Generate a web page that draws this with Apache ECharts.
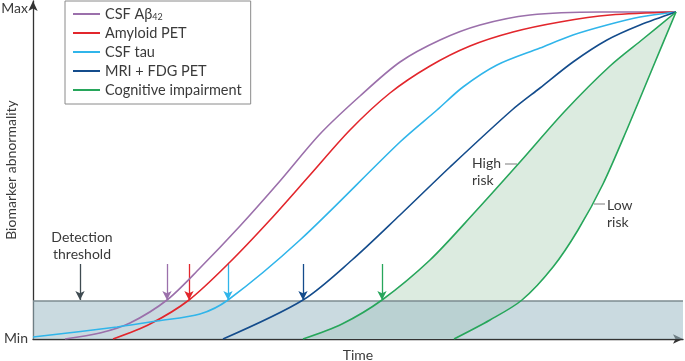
<!DOCTYPE html>
<html>
<head>
<meta charset="utf-8">
<script src="https://cdn.jsdelivr.net/npm/echarts@6/dist/echarts.min.js"></script>
<style>
  html, body { margin: 0; padding: 0; background: #fff; }
  #chart { width: 685px; height: 361px; }
</style>
</head>
<body>
<div id="chart"></div>
<script>
// time runs 0..650, abnormality 0 (min) .. 338, curves meet near 327
const threshold = 38;
const onsetTop = 75;

const abetaX = [32, 67, 97, 134, 167, 207, 247, 287, 327, 367, 407, 447, 497, 567, 643];
const abetaY = [0, 6, 16, 39, 71, 113, 158, 205, 243, 277, 299, 314, 324, 327, 327];

const amyloidX = [80, 117, 156, 197, 237, 277, 317, 357, 397, 437, 480, 527, 577, 643];
const amyloidY = [0, 15, 39, 77, 119, 164, 209, 246, 273, 293, 307, 317, 324, 327];

const tauX = [0, 84, 124, 167, 195, 267, 367, 404, 430, 464, 507, 540, 574, 607, 643];
const tauY = [2, 12, 18, 25, 39, 99, 197, 229, 252, 274, 291, 304, 314, 322, 327];

const mriX = [190, 270, 319, 367, 417, 479, 507, 540, 574, 607, 643];
const mriY = [0, 39, 79, 124, 172, 229, 251, 277, 299, 314, 327];

const highRiskX = [270, 309, 349, 397, 442, 487, 532, 577, 610, 643];
const highRiskY = [0, 15, 39, 79, 127, 177, 228, 273, 300, 327];

const lowRiskX = [421, 457, 489, 520, 545, 570, 595, 620, 643];
const lowRiskY = [0, 19, 39, 72, 109, 155, 212, 272, 327];

// where each biomarker crosses the detection threshold
const detectionX = 47;
const onsets = [134, 156, 195, 270, 349];

const names = ['CSF Aβ42', 'Amyloid PET', 'CSF tau', 'MRI + FDG PET', 'Cognitive impairment'];
const colors = ['#9b70ab', '#e2262c', '#30b5ea', '#144c8c', '#27a65b'];

const font = 'Lato, "Noto Sans", sans-serif';
const textColor = '#3a3a3a';

function pairs(xs, ys) {
  return xs.map((x, i) => [x, ys[i]]);
}

function onsetArrow(x, color) {
  return {
    silent: true,
    symbol: ['none', 'arrow'],
    symbolSize: [7, 9],
    label: { show: false },
    lineStyle: { color: color, width: 1.3, type: 'solid' },
    data: [[{ coord: [x, onsetTop] }, { coord: [x, threshold + 1] }]],
  };
}

function curve(name, xs, ys, color, onset) {
  const s = {
    name: name,
    type: 'line',
    data: pairs(xs, ys),
    symbol: 'none',
    smooth: 0.3,
    z: 5,
    lineStyle: { color: color, width: 1.6 },
    itemStyle: { color: color },
  };
  if (onset !== undefined) s.markLine = onsetArrow(onset, color);
  return s;
}

const chart = echarts.init(document.getElementById('chart'));

const option = {
  animation: false,
  grid: { left: 33, right: 2, top: 1, bottom: 22, outerBoundsMode: 'none' },
  xAxis: {
    type: 'value',
    min: 0,
    max: 650,
    name: 'Time',
    nameLocation: 'middle',
    nameGap: 9,
    nameTextStyle: { color: textColor, fontSize: 14, fontFamily: font },
    axisLine: { lineStyle: { color: '#333', width: 1.3 }, symbol: ['none', 'arrow'], symbolSize: [7, 10] },
    axisTick: { show: false },
    axisLabel: { show: false },
    splitLine: { show: false },
  },
  yAxis: {
    type: 'value',
    min: 0,
    max: 338,
    name: 'Biomarker abnormality',
    nameLocation: 'middle',
    nameRotate: 90,
    nameGap: 15,
    nameTextStyle: { color: textColor, fontSize: 14, fontFamily: font },
    axisLine: { lineStyle: { color: '#333', width: 1.3 }, symbol: ['none', 'arrow'], symbolSize: [7, 10] },
    axisTick: { show: false },
    axisLabel: { show: false },
    splitLine: { show: false },
  },
  legend: {
    data: names,
    orient: 'vertical',
    left: 65,
    top: 1,
    padding: [5, 9, 6, 7],
    itemWidth: 27,
    itemHeight: 14,
    itemGap: 3,
    borderColor: '#8a8a8a',
    borderWidth: 1,
    backgroundColor: '#fff',
    selectedMode: false,
    itemStyle: { opacity: 0 },
    formatter: (name) => (name === 'CSF Aβ42' ? 'CSF Aβ{sub|42}' : name),
    textStyle: {
      color: textColor,
      fontSize: 14.5,
      lineHeight: 16,
      fontFamily: font,
      rich: {
        sub: { fontSize: 9, lineHeight: 9, verticalAlign: 'bottom', fontFamily: font, color: textColor },
      },
    },
  },
  graphic: [
    { type: 'text', right: 685 - 28, top: 1, style: { text: 'Max', fill: textColor, font: '14px ' + font } },
    { type: 'text', right: 685 - 28, top: 331, style: { text: 'Min', fill: textColor, font: '14px ' + font } },
    { type: 'text', x: 82, y: 229, style: { text: 'Detection\nthreshold', fill: textColor, font: '14px ' + font, lineHeight: 17, align: 'center', verticalAlign: 'top' } },
    { type: 'text', left: 435, top: 282, style: { text: 'Normal', fill: textColor, font: '14px ' + font } },
    { type: 'text', left: 518, top: 209, style: { text: 'MCI', fill: textColor, font: '14px ' + font } },
    { type: 'text', left: 554, top: 129, style: { text: 'Dementia', fill: textColor, font: '14px ' + font } },
    { type: 'text', left: 472, top: 155, style: { text: 'High\nrisk', fill: textColor, font: '14px ' + font, lineHeight: 17 } },
    { type: 'text', left: 607, top: 197, style: { text: 'Low\nrisk', fill: textColor, font: '14px ' + font, lineHeight: 17 } },
    { type: 'line', shape: { x1: 505, y1: 164, x2: 517, y2: 164 }, style: { stroke: '#9a9a9a', lineWidth: 1.3 } },
    { type: 'line', shape: { x1: 594, y1: 204, x2: 605, y2: 204 }, style: { stroke: '#9a9a9a', lineWidth: 1.3 } },
  ],
  series: [
    {
      // shaded region between high-risk and low-risk cognitive curves
      type: 'custom',
      silent: true,
      z: 1,
      data: [[0, 0]],
      renderItem: function (params, api) {
        const upper = highRiskX.map((x, i) => api.coord([x, highRiskY[i]]));
        const lower = lowRiskX.map((x, i) => api.coord([x, lowRiskY[i]])).reverse();
        return {
          type: 'polygon',
          shape: { points: upper.concat(lower) },
          style: { fill: '#dcebe0' },
        };
      },
    },
    {
      // detection threshold band
      type: 'custom',
      silent: true,
      z: 2,
      data: [[0, threshold]],
      renderItem: function (params, api) {
        const tl = api.coord([0, threshold]);
        const br = api.coord([650, 0]);
        return {
          type: 'group',
          children: [
            {
              type: 'rect',
              shape: { x: tl[0], y: tl[1], width: br[0] - tl[0], height: br[1] - tl[1] },
              style: { fill: 'rgba(158,188,199,0.55)' },
            },
            {
              type: 'line',
              shape: { x1: tl[0], y1: tl[1], x2: br[0], y2: tl[1] },
              style: { stroke: '#7d8b90', lineWidth: 1.3 },
            },
          ],
        };
      },
    },
    {
      // detection threshold pointer
      type: 'line',
      data: [],
      silent: true,
      markLine: onsetArrow(detectionX, '#3f4b51'),
    },
    curve(names[0], abetaX, abetaY, colors[0], onsets[0]),
    curve(names[1], amyloidX, amyloidY, colors[1], onsets[1]),
    curve(names[2], tauX, tauY, colors[2], onsets[2]),
    curve(names[3], mriX, mriY, colors[3], onsets[3]),
    curve(names[4], highRiskX, highRiskY, colors[4], onsets[4]),
    curve(names[4], lowRiskX, lowRiskY, colors[4]),
  ],
};

chart.setOption(option);
</script>
</body>
</html>
